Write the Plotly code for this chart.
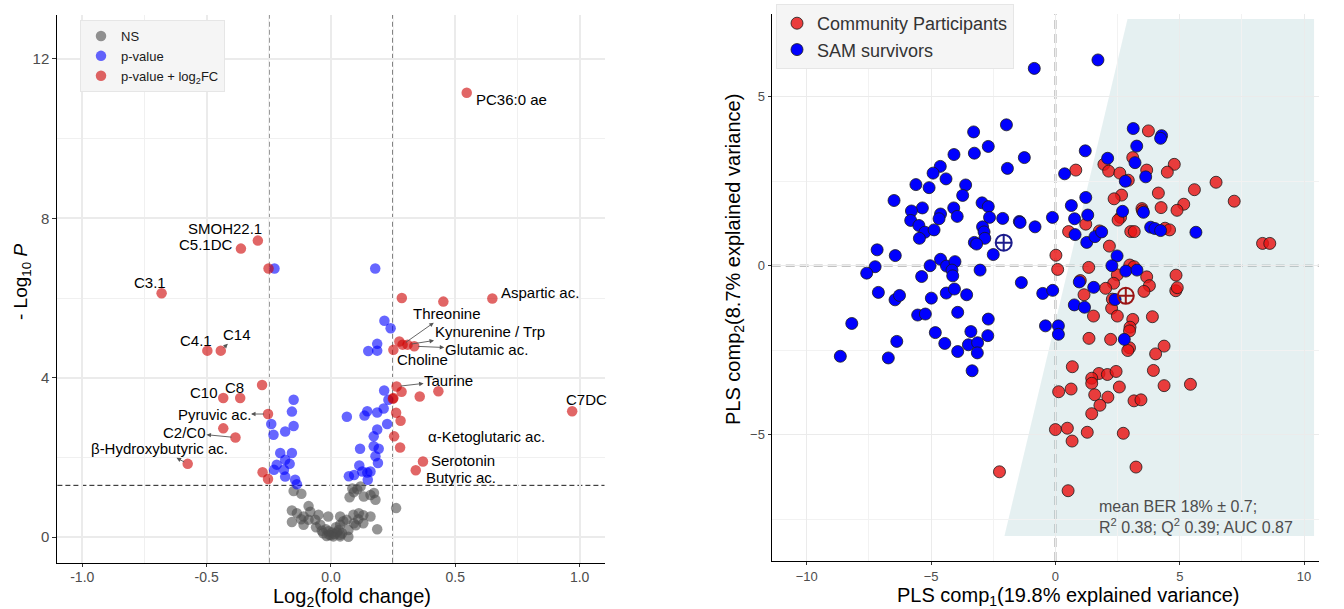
import plotly.graph_objects as go

# ---------------- Volcano plot data (left panel) ----------------
NS_LOG2FC = [-0.150, -0.119, -0.157, -0.090, -0.083, -0.110, -0.063, -0.157, -0.110, -0.043,
             -0.020, -0.011, -0.031, -0.007, 0.010, 0.024, 0.037, 0.031, 0.004, 0.037,
             0.050, 0.070, 0.063, 0.090, 0.130, 0.075, 0.092, 0.106, 0.086, 0.119,
             0.132, 0.159, 0.179, 0.173, 0.262, 0.186, 0.159, 0.112, 0.092, 0.037,
             -0.050, -0.090, -0.137, -0.037, 0.070, 0.037, -0.017, 0.000, 0.015, -0.010,
             0.045, 0.020, -0.060, 0.100, 0.110, -0.120, 0.130]
NS_NEGLOG10P = [1.16, 1.09, 0.67, 0.78, 0.64, 0.52, 0.44, 0.38, 0.31, 0.31,
                0.20, 0.52, 0.10, 0.06, 0.02, 0.12, 0.06, 0.18, 0.12, 0.52,
                0.40, 0.01, 0.44, 0.56, 0.55, 1.00, 1.13, 1.20, 1.22, 1.27,
                1.02, 1.06, 0.94, 1.11, 0.73, 0.20, 0.52, 0.60, 0.35, 0.31,
                0.56, 0.44, 0.60, 0.16, 0.18, 0.02, 0.03, 0.05, 0.08, 0.15,
                0.10, 0.25, 0.25, 0.30, 0.45, 0.45, 0.35]

PV_LOG2FC = [0.215, 0.240, 0.186, 0.150, 0.186, 0.214, 0.231, 0.212, 0.186, 0.146,
             0.135, 0.064, 0.226, 0.186, 0.172, 0.117, 0.172, 0.192, 0.179, 0.189,
             0.114, 0.159, 0.146, 0.126, 0.072, 0.093, 0.148, 0.178,
             -0.150, -0.157, -0.150, -0.184, -0.240, -0.231, -0.157, -0.204, -0.184, -0.166,
             -0.218, -0.229, -0.189, -0.184, -0.144, -0.137, -0.227]
PV_NEGLOG10P = [5.43, 5.24, 4.85, 4.67, 4.68, 3.68, 3.45, 3.23, 3.13, 3.16,
                3.05, 3.02, 2.84, 2.70, 2.53, 2.22, 2.28, 2.22, 2.03, 1.86,
                1.80, 1.65, 1.62, 1.65, 1.53, 1.56, 1.44, 6.74,
                3.45, 3.15, 2.79, 2.65, 2.84, 2.57, 2.11, 2.11, 1.94, 1.84,
                1.82, 1.69, 1.69, 1.52, 1.44, 1.33, 6.74]

SIG_LOG2FC = [0.546, -0.294, -0.362, -0.251, -0.681, 0.285, 0.452, 0.649, 0.275, 0.288,
              0.308, 0.335, 0.251, -0.497, -0.443, 0.264, 0.284, 0.251, 0.249, 0.357,
              0.432, 0.970, -0.277, -0.433, -0.365, -0.253, 0.262, 0.280, -0.433, -0.384,
              0.254, 0.278, 0.370, 0.341, -0.576, -0.275, -0.253]
SIG_NEGLOG10P = [11.15, 7.44, 7.24, 6.74, 6.12, 6.00, 5.91, 5.99, 4.91, 4.83,
                 4.83, 4.79, 4.70, 4.68, 4.68, 3.78, 3.65, 3.49, 3.47, 3.53,
                 3.66, 3.16, 3.82, 3.49, 3.49, 3.09, 3.12, 2.92, 2.73, 2.50,
                 2.53, 2.25, 1.90, 1.68, 1.84, 1.63, 1.46]
SIG_NAMES = ["PC36:0 ae", "SMOH22.1", "C5.1DC", "", "C3.1", "", "", "Aspartic ac.", "", "Threonine",
             "Kynurenine / Trp", "Glutamic ac.", "Choline", "C4.1", "C14", "Taurine", "", "", "", "",
             "", "C7DC", "", "C10", "C8", "Pyruvic ac.", "", "", "", "C2/C0",
             "", "α-Ketoglutaric ac.", "Serotonin", "Butyric ac.", "β-Hydroxybutyric ac.", "", ""]

FC_CUTOFF = 0.25
P_CUTOFF = 1.30103

VOLC_XTICKS = [-1.0, -0.5, 0.0, 0.5, 1.0]
VOLC_XTICKTEXT = ["-1.0", "-0.5", "0.0", "0.5", "1.0"]
VOLC_YTICKS = [0, 4, 8, 12]
VOLC_YTICKTEXT = ["0", "4", "8", "12"]

# ---------------- PLS-DA data (right panel) ----------------
SAM_COMP1 = [-0.85, -1.97, -3.29, -2.70, -3.26, -1.25, -4.08, -1.93, -4.63, -4.92,
             -4.40, -5.61, -5.08, -3.61, -3.73, -6.49, -2.95, -2.70, -4.09, -5.35,
             -5.79, -3.95, -4.62, -5.82, -4.68, -2.65, -2.12, -1.45, -1.42, -0.82,
             -0.12, -5.49, -5.25, -4.88, -2.93, -2.87, -5.47, -2.84, -3.26, -3.17,
             -2.50, -7.17, -6.44, -7.25, -7.59, -5.04, -4.62, -4.38, -4.04, -4.16,
             -4.13, -5.38, -3.03, -1.37, -0.51, -0.11, -7.12, -6.45, -6.27, -4.99,
             -4.39, -4.06, -3.57, -8.19, -5.54, -5.23, -3.93, -2.70, -0.40, 0.12,
             0.12, -4.83, -3.40, -4.45, -3.50, -3.13, -2.72, -3.93, -3.14, -6.38,
             -6.72, -8.65, -3.35, 1.71,
             3.13, 4.27, 4.23, 3.27, 1.20, 2.10, 3.20, 0.37, 3.63, 2.81,
             1.22, 0.64, 2.70, 3.54, 0.77, 1.30, 0.79, 1.26, 1.59, 1.86,
             3.83, 4.00, 4.23, 5.65, 2.48, 2.27, 2.83, 3.28, 0.96, 1.54,
             0.76, 1.17, 2.40, 2.77]
SAM_COMP2 = [5.84, 4.17, 3.96, 3.53, 3.33, 3.20, 3.29, 2.88, 2.94, 2.74,
             2.57, 2.40, 2.31, 2.39, 2.08, 1.93, 1.86, 1.75, 1.71, 1.71,
             1.62, 1.46, 1.53, 1.34, 1.39, 1.43, 1.40, 1.31, 1.28, 1.15,
             1.43, 1.19, 0.99, 1.06, 1.15, 1.00, 0.81, 0.81, 0.69, 0.64,
             0.33, 0.47, 0.30, -0.03, -0.22, 0.00, 0.19, -0.01, 0.12, -0.13,
             -0.30, -0.32, -0.13, -0.50, -0.82, -0.73, -0.79, -1.01, -0.88, -0.96,
             -0.81, -0.69, -0.86, -1.71, -1.46, -1.43, -1.38, -1.58, -1.78, -1.78,
             -2.03, -1.98, -1.95, -2.30, -2.34, -2.28, -2.07, -2.54, -2.58, -2.24,
             -2.73, -2.68, -3.11, 6.09,
             4.06, 3.85, 3.77, 3.54, 3.40, 3.18, 3.05, 2.72, 2.63, 2.50,
             2.02, 1.78, 1.61, 1.58, 1.39, 1.50, 0.92, 0.69, 0.86, 1.00,
             1.14, 1.10, 1.04, 0.99, 0.29, 0.00, -0.16, -0.13, -0.48, -0.64,
             -1.16, -1.23, -1.00, -2.18]

CP_COMP1 = [3.74, 3.11, 1.95, 2.14, 2.59, 2.93, 3.67, 4.78, 4.50, 0.82,
            6.46, 5.59, 4.14, 2.66, 2.36, 7.19, 5.16, 4.89, 4.25, 3.48,
            3.50, 2.62, 2.52, 1.22, 0.53, 1.77, 3.03, 3.17, 4.41, 4.59,
            8.33, 8.62, 2.17, 0.02, 0.09, 1.34, 2.99, 3.16, 4.85, 3.67,
            3.78, 3.56, 4.84, 4.90, 2.49, 2.34, 2.02, 1.00, 1.15, 2.29,
            2.26, 1.53, 2.49, 3.90,
            3.11, 3.00, 2.98, 1.35, 2.22, 2.98, 2.91, 4.37, 4.03, 0.68,
            3.94, 1.75, 2.09, 2.44, 1.46, 1.46, 2.57, 4.37, 5.43, 0.13,
            0.63, 1.58, 2.11, 1.79, 3.16, 3.44, 1.46, 0.00, 0.48, 1.28,
            2.73, 0.67, 3.24, 0.51, -2.25]
CP_COMP2 = [3.99, 3.20, 3.00, 2.80, 2.74, 2.53, 2.83, 3.00, 2.77, 2.83,
            2.47, 2.25, 2.15, 2.09, 1.98, 1.91, 1.82, 1.64, 1.72, 1.69,
            1.63, 1.43, 1.35, 1.23, 1.01, 1.03, 1.01, 1.01, 1.11, 1.06,
            0.66, 0.66, 0.58, 0.31, -0.11, -0.05, 0.02, -0.03, -0.28, -0.33,
            -0.59, -0.76, -0.74, -0.65, -0.27, -0.52, -0.67, -0.44, -0.86, -0.99,
            -1.26, -1.49, -1.49, -1.51,
            -1.59, -1.82, -1.93, -2.15, -2.18, -2.43, -2.51, -2.38, -2.61, -2.99,
            -3.10, -3.19, -3.22, -3.13, -3.33, -3.48, -3.59, -3.55, -3.51, -3.73,
            -3.65, -3.82, -3.89, -4.13, -4.00, -3.97, -4.38, -4.85, -4.81, -4.93,
            -4.96, -5.19, -5.96, -6.66, -6.10]

CENTROID_SAM = [-2.08, 0.68]
CENTROID_CP = [2.83, -0.89]

SHADE_X = [-2.05, 2.9, 10.4, 10.4]
SHADE_Y = [-8.0, 7.3, 7.3, -8.0]

PLS_XTICKS = [-10, -5, 0, 5, 10]
PLS_YTICKS = [-5, 0, 5]

# ---------------- styles ----------------
FONT = "Liberation Sans, Arial, Helvetica, sans-serif"
TICK_COLOR = "#4d4d4d"

# label placement (pixel offsets from the labelled point)
LABEL_STYLE = {
    "PC36:0 ae": dict(kind="text", xanchor="left", xshift=7, yshift=-7),
    "SMOH22.1": dict(kind="text", xanchor="right", xshift=6, yshift=12),
    "C5.1DC": dict(kind="text", xanchor="right", xshift=-6, yshift=4),
    "C3.1": dict(kind="text", xanchor="center", xshift=-12, yshift=11),
    "Aspartic ac.": dict(kind="text", xanchor="left", xshift=7, yshift=6),
    "C7DC": dict(kind="text", xanchor="center", xshift=14, yshift=12),
    "Serotonin": dict(kind="text", xanchor="left", xshift=6, yshift=1),
    "Butyric ac.": dict(kind="text", xanchor="left", xshift=8, yshift=-7),
    "α-Ketoglutaric ac.": dict(kind="text", xanchor="left", xshift=26, yshift=11),
    "Choline": dict(kind="text", xanchor="left", xshift=2, yshift=-10),
    "C4.1": dict(kind="text", xanchor="center", xshift=-11, yshift=10),
    "C10": dict(kind="text", xanchor="right", xshift=-3, yshift=6),
    "C8": dict(kind="text", xanchor="center", xshift=-6, yshift=11),
    "C14": dict(kind="arrow", ax=16, ay=-16),
    "Threonine": dict(kind="arrow", ax=44, ay=-31),
    "Kynurenine / Trp": dict(kind="arrow", ax=82, ay=-13),
    "Glutamic ac.": dict(kind="arrow", ax=72, ay=3),
    "Taurine": dict(kind="arrow", ax=52, ay=-6),
    "Pyruvic ac.": dict(kind="arrow", ax=-54, ay=0),
    "C2/C0": dict(kind="arrow", ax=-51, ay=-5),
    "β-Hydroxybutyric ac.": dict(kind="arrow", ax=-28, ay=-15),
}

fig = go.Figure()

# ---- volcano traces ----
fig.add_trace(go.Scatter(
    x=NS_LOG2FC, y=NS_NEGLOG10P, mode="markers", name="NS",
    marker=dict(color="rgba(77,77,77,0.6)", size=10.5),
    xaxis="x", yaxis="y", legend="legend"))
fig.add_trace(go.Scatter(
    x=PV_LOG2FC, y=PV_NEGLOG10P, mode="markers", name="p-value",
    marker=dict(color="rgba(0,0,255,0.6)", size=10.5),
    xaxis="x", yaxis="y", legend="legend"))
fig.add_trace(go.Scatter(
    x=SIG_LOG2FC, y=SIG_NEGLOG10P, mode="markers", name="p-value + log<sub>2</sub>FC",
    marker=dict(color="rgba(205,0,0,0.6)", size=10.5),
    xaxis="x", yaxis="y", legend="legend"))

# ---- PLS-DA traces ----
fig.add_trace(go.Scatter(
    x=CP_COMP1, y=CP_COMP2, mode="markers", name="Community Participants",
    marker=dict(color="rgba(232,20,20,0.82)", size=12, line=dict(color="#1a1a1a", width=0.8)),
    xaxis="x2", yaxis="y2", legend="legend2"))
fig.add_trace(go.Scatter(
    x=SAM_COMP1, y=SAM_COMP2, mode="markers", name="SAM survivors",
    marker=dict(color="#0000ff", size=12, line=dict(color="#1a1a1a", width=0.8)),
    xaxis="x2", yaxis="y2", legend="legend2"))
fig.add_trace(go.Scatter(
    x=[CENTROID_SAM[0]], y=[CENTROID_SAM[1]], mode="markers", showlegend=False,
    marker=dict(symbol="circle-cross-open", size=16, color="#1c1c8c", line=dict(width=2)),
    xaxis="x2", yaxis="y2"))
fig.add_trace(go.Scatter(
    x=[CENTROID_CP[0]], y=[CENTROID_CP[1]], mode="markers", showlegend=False,
    marker=dict(symbol="circle-cross-open", size=16, color="#9a1515", line=dict(width=2)),
    xaxis="x2", yaxis="y2"))

shapes = []
# volcano cut-off lines
for xv in (-FC_CUTOFF, FC_CUTOFF):
    shapes.append(dict(type="line", xref="x", yref="y domain", x0=xv, x1=xv, y0=0, y1=1,
                       line=dict(color="#1a1a1a", width=1.3, dash="5px,3px"), layer="below"))
shapes.append(dict(type="line", xref="x domain", yref="y", x0=0, x1=1, y0=P_CUTOFF, y1=P_CUTOFF,
                   line=dict(color="#1a1a1a", width=1, dash="5px,3px"), layer="below"))
# PLS shaded prediction region
path = "M " + " L ".join(f"{a},{b}" for a, b in zip(SHADE_X, SHADE_Y)) + " Z"
shapes.append(dict(type="path", xref="x2", yref="y2", path=path,
                   fillcolor="rgba(170,205,208,0.30)", line=dict(width=0), layer="below"))
shapes.append(dict(type="line", xref="x2", yref="y2 domain", x0=0, x1=0, y0=0, y1=1,
                   line=dict(color="#c2c2c2", width=2.5, dash="9px,5px"), layer="below"))
shapes.append(dict(type="line", xref="x2 domain", yref="y2", x0=0, x1=1, y0=0, y1=0,
                   line=dict(color="#c2c2c2", width=2.5, dash="9px,5px"), layer="below"))

annotations = []
for fc, p, name in zip(SIG_LOG2FC, SIG_NEGLOG10P, SIG_NAMES):
    if not name:
        continue
    st = LABEL_STYLE[name]
    if st["kind"] == "text":
        annotations.append(dict(x=fc, y=p, xref="x", yref="y", text=name, showarrow=False,
                                xanchor=st["xanchor"], yanchor="middle",
                                xshift=st["xshift"], yshift=st["yshift"],
                                font=dict(family=FONT, size=15, color="#000000")))
    else:
        annotations.append(dict(x=fc, y=p, xref="x", yref="y", text=name, showarrow=True,
                                ax=st["ax"], ay=st["ay"], arrowside="start",
                                arrowhead=2, startarrowhead=2, startarrowsize=1.0,
                                arrowwidth=0.9, arrowcolor="#555555", standoff=4,
                                borderpad=0,
                                font=dict(family=FONT, size=15, color="#000000")))

# axis titles
annotations += [
    dict(xref="paper", yref="paper", x=352 / 1344, y=1 - 597 / 609, showarrow=False,
         text="Log<sub>2</sub>(fold change)", xanchor="center", yanchor="middle",
         font=dict(family=FONT, size=20, color="#000000")),
    dict(xref="paper", yref="paper", x=22 / 1344, y=1 - 282 / 609, showarrow=False,
         text="- Log<sub>10</sub> <i>P</i>", textangle=-90, xanchor="center", yanchor="middle",
         font=dict(family=FONT, size=19, color="#000000")),
    dict(xref="paper", yref="paper", x=1068 / 1344, y=1 - 596 / 609, showarrow=False,
         text="PLS comp<sub>1</sub>(19.8% explained variance)", xanchor="center", yanchor="middle",
         font=dict(family=FONT, size=20, color="#000000")),
    dict(xref="paper", yref="paper", x=735 / 1344, y=1 - 260 / 609, showarrow=False,
         text="PLS comp<sub>2</sub>(8.7% explained variance)", textangle=-90,
         xanchor="center", yanchor="middle",
         font=dict(family=FONT, size=20, color="#000000")),
    dict(xref="x2", yref="y2", x=1.67, y=-7.43, showarrow=False, align="left",
         xanchor="left", yanchor="middle",
         text="mean BER 18% ± 0.7;<br>R<sup>2</sup> 0.38; Q<sup>2</sup> 0.39; AUC 0.87",
         font=dict(family=FONT, size=16, color="#4d4d4d")),
]

axis_common = dict(showline=True, linecolor="#000000", linewidth=1.3, ticks="outside",
                   tickcolor="#333333", zeroline=False, mirror=False)

fig.update_layout(
    width=1344, height=609,
    margin=dict(l=0, r=0, t=0, b=0),
    paper_bgcolor="white", plot_bgcolor="white",
    font=dict(family=FONT),
    shapes=shapes, annotations=annotations,
    xaxis=dict(domain=[57.4 / 1344, 604.5 / 1344], range=[-1.1, 1.1], anchor="y",
               tickvals=VOLC_XTICKS, ticktext=VOLC_XTICKTEXT, ticklen=3,
               ticklabelstandoff=-2,
               tickfont=dict(size=14, color=TICK_COLOR),
               showgrid=True, gridcolor="#ebebeb", gridwidth=2,
               minor=dict(dtick=0.25, tick0=0, showgrid=True, gridcolor="#f0f0f0", gridwidth=1),
               **axis_common),
    yaxis=dict(domain=[1 - 562.7 / 609, 1 - 15 / 609], range=[-0.64, 13.1], anchor="x",
               tickvals=VOLC_YTICKS, ticktext=VOLC_YTICKTEXT, ticklen=4,
               tickfont=dict(size=15, color=TICK_COLOR),
               showgrid=True, gridcolor="#ebebeb", gridwidth=2,
               minor=dict(dtick=2, tick0=0, showgrid=True, gridcolor="#f0f0f0", gridwidth=1),
               **axis_common),
    xaxis2=dict(domain=[771.7 / 1344, 1319 / 1344], range=[-11.41, 10.6], anchor="y2",
                tickvals=PLS_XTICKS, ticklen=3, tickfont=dict(size=13, color=TICK_COLOR),
                showgrid=True, gridcolor="#ebebeb", gridwidth=1.2,
                minor=dict(dtick=2.5, tick0=0, showgrid=True, gridcolor="#f2f2f2", gridwidth=0.8),
                **axis_common),
    yaxis2=dict(domain=[1 - 561 / 609, 1 - 14 / 609], range=[-8.74, 7.45], anchor="x2",
                tickvals=PLS_YTICKS, ticklen=3, tickfont=dict(size=13, color=TICK_COLOR),
                showgrid=True, gridcolor="#ebebeb", gridwidth=1.2,
                minor=dict(dtick=2.5, tick0=0, showgrid=True, gridcolor="#f2f2f2", gridwidth=0.8),
                **axis_common),
    legend=dict(x=80 / 1344, y=1 - 20 / 609, xanchor="left", yanchor="top",
                bgcolor="#f5f5f5", bordercolor="#e6e6e6", borderwidth=1,
                font=dict(family=FONT, size=13, color="#1a1a1a"), tracegroupgap=0),
    legend2=dict(x=776 / 1344, y=1 - 4 / 609, xanchor="left", yanchor="top",
                 bgcolor="#f5f5f5", bordercolor="#e6e6e6", borderwidth=1,
                 font=dict(family=FONT, size=18, color="#333333")),
)

fig.write_html("out.html")
